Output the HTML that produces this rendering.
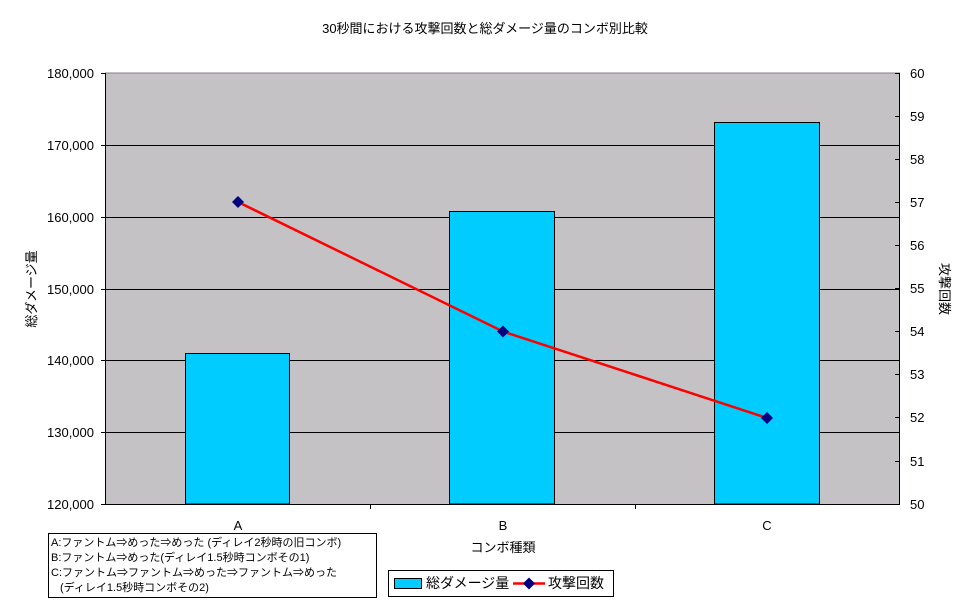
<!DOCTYPE html>
<html><head><meta charset="utf-8"><style>
body{margin:0;background:#fff;}
text{font-family:"Liberation Sans","Noto Sans CJK JP",sans-serif;fill:#000;}
</style></head><body>
<svg width="970" height="604" xmlns="http://www.w3.org/2000/svg">
<rect width="970" height="604" fill="#fff"/>
<text x="485" y="33" font-size="13" text-anchor="middle">30秒間における攻撃回数と総ダメージ量のコンボ別比較</text>
<rect x="105" y="73" width="795" height="431" fill="#c4c2c4"/>
<line x1="105" y1="73" x2="900" y2="73" stroke="#808080"/>
<g stroke="#000" stroke-width="1">
<line x1="105" y1="145.5" x2="900" y2="145.5"/>
<line x1="105" y1="217.5" x2="900" y2="217.5"/>
<line x1="105" y1="289.5" x2="900" y2="289.5"/>
<line x1="105" y1="360.5" x2="900" y2="360.5"/>
<line x1="105" y1="432.5" x2="900" y2="432.5"/>
</g>
<g fill="#00ccff" stroke="#000" stroke-width="1">
<rect x="185.5" y="353.5" width="104" height="150.5"/>
<rect x="449.5" y="211.5" width="105" height="292.5"/>
<rect x="714.5" y="122.5" width="105" height="381.5"/>
</g>
<g stroke="#000">
<line x1="105.5" y1="73" x2="105.5" y2="504"/>
<line x1="899.5" y1="73" x2="899.5" y2="504"/>
<line x1="105" y1="504.5" x2="900" y2="504.5"/>
<line x1="101" y1="73.5" x2="105" y2="73.5"/><line x1="101" y1="145.5" x2="105" y2="145.5"/><line x1="101" y1="217.5" x2="105" y2="217.5"/><line x1="101" y1="289.5" x2="105" y2="289.5"/><line x1="101" y1="360.5" x2="105" y2="360.5"/><line x1="101" y1="432.5" x2="105" y2="432.5"/><line x1="101" y1="504.5" x2="105" y2="504.5"/>
<line x1="370.5" y1="504" x2="370.5" y2="509"/><line x1="635.5" y1="504" x2="635.5" y2="509"/>
</g>
<g stroke="#000">
<line x1="895" y1="73.5" x2="900" y2="73.5"/><line x1="895" y1="116.5" x2="900" y2="116.5"/><line x1="895" y1="159.5" x2="900" y2="159.5"/><line x1="895" y1="202.5" x2="900" y2="202.5"/><line x1="895" y1="245.5" x2="900" y2="245.5"/><line x1="895" y1="288.5" x2="900" y2="288.5"/><line x1="895" y1="331.5" x2="900" y2="331.5"/><line x1="895" y1="374.5" x2="900" y2="374.5"/><line x1="895" y1="417.5" x2="900" y2="417.5"/><line x1="895" y1="461.5" x2="900" y2="461.5"/>
</g>
<g font-size="13" text-anchor="end">
<text x="94" y="78">180,000</text><text x="94" y="150">170,000</text><text x="94" y="222">160,000</text><text x="94" y="294">150,000</text><text x="94" y="365">140,000</text><text x="94" y="437">130,000</text><text x="94" y="509">120,000</text>
</g>
<g font-size="13">
<text x="910" y="78">60</text><text x="910" y="121">59</text><text x="910" y="164">58</text><text x="910" y="207">57</text><text x="910" y="250">56</text><text x="910" y="293">55</text><text x="910" y="336">54</text><text x="910" y="379">53</text><text x="910" y="422">52</text><text x="910" y="466">51</text><text x="910" y="509">50</text>
</g>
<g font-size="13" text-anchor="middle">
<text x="238" y="530">A</text><text x="503" y="530">B</text><text x="767" y="530">C</text>
<text x="503" y="552">コンボ種類</text>
</g>
<text font-size="13" text-anchor="middle" transform="translate(36,289) rotate(-90)">総ダメージ量</text>
<text font-size="13" text-anchor="middle" transform="translate(940,289) rotate(90)">攻撃回数</text>
<polyline points="238,202 503,331.5 767,418" fill="none" stroke="#ff0000" stroke-width="2.5"/>
<g fill="#000080">
<polygon points="238,196 244,202 238,208 232,202"/>
<polygon points="503,325.5 509,331.5 503,337.5 497,331.5"/>
<polygon points="767,412 773,418 767,424 761,418"/>
</g>
<rect x="48.5" y="533.5" width="328" height="64" fill="#fff" stroke="#000"/>
<g font-size="11">
<text x="51" y="546">A:ファントム⇒めった⇒めった (ディレイ2秒時の旧コンボ)</text>
<text x="51" y="561">B:ファントム⇒めった(ディレイ1.5秒時コンボその1)</text>
<text x="51" y="576">C:ファントム⇒ファントム⇒めった⇒ファントム⇒めった</text>
<text x="60" y="591">(ディレイ1.5秒時コンボその2)</text>
</g>
<rect x="388.5" y="570.5" width="225" height="26" fill="#fff" stroke="#000"/>
<rect x="394.5" y="578.5" width="27" height="10" fill="#00ccff" stroke="#000"/>
<text x="426" y="588" font-size="14">総ダメージ量</text>
<line x1="513" y1="583.5" x2="545" y2="583.5" stroke="#ff0000" stroke-width="2.5"/>
<polygon points="529,577.5 535,583.5 529,589.5 523,583.5" fill="#000080"/>
<text x="548" y="588" font-size="14">攻撃回数</text>
</svg>
</body></html>
